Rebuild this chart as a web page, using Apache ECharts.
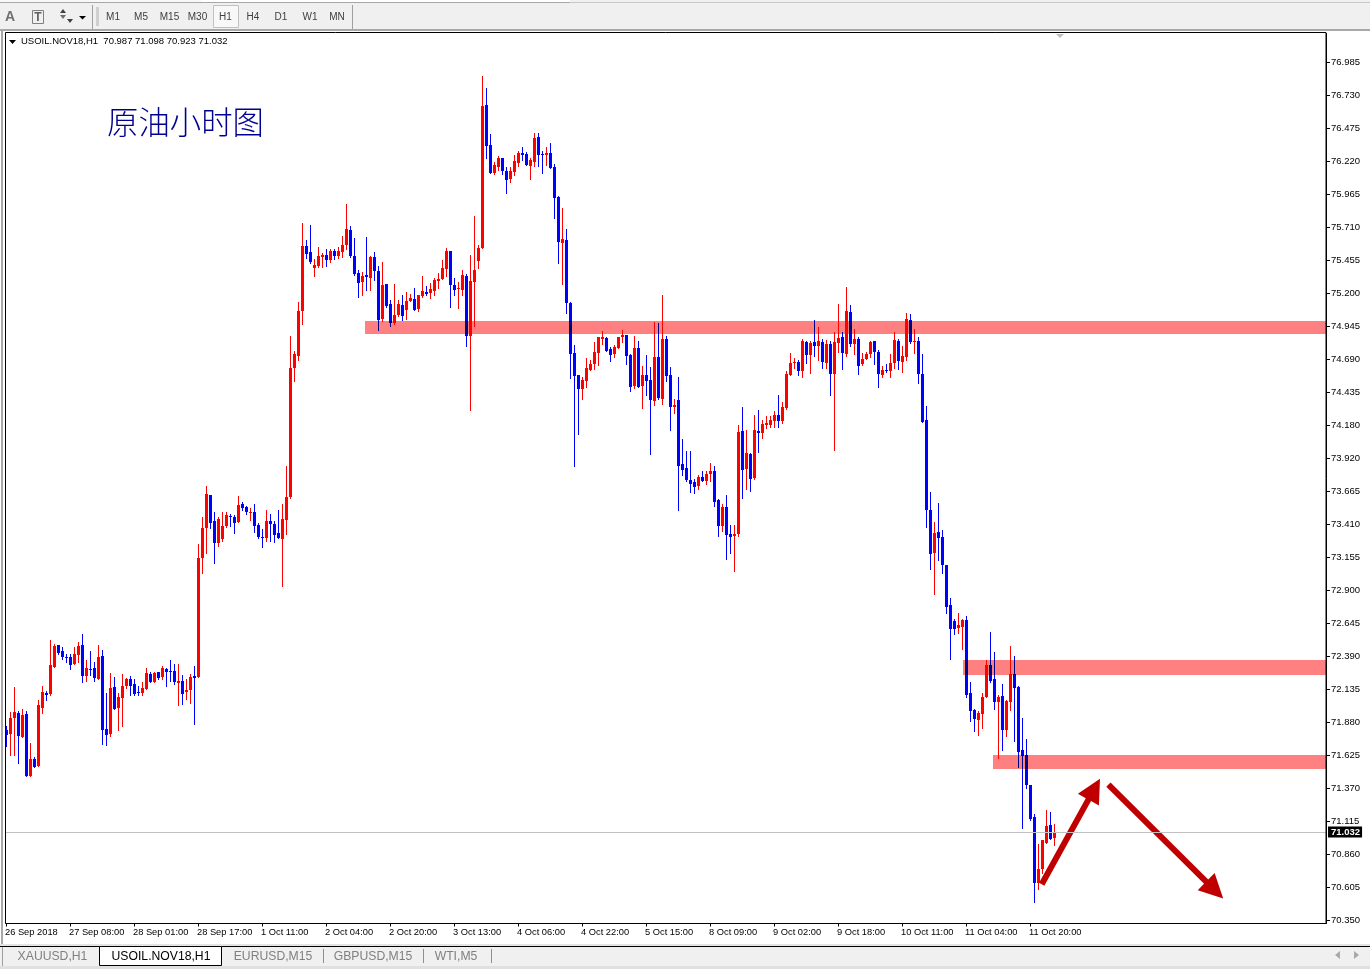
<!DOCTYPE html>
<html>
<head>
<meta charset="utf-8">
<style>html,body{margin:0;padding:0;background:#fff}#c{width:1370px;height:969px}</style>
<script src="https://cdn.jsdelivr.net/npm/echarts@6/dist/echarts.min.js"></script>
</head>
<body>
<div id="c"></div>
<script>
const tickLabels = ['26 Sep 2018','27 Sep 08:00','28 Sep 01:00','28 Sep 17:00','1 Oct 11:00','2 Oct 04:00','2 Oct 20:00','3 Oct 13:00','4 Oct 06:00','4 Oct 22:00','5 Oct 15:00','8 Oct 09:00','9 Oct 02:00','9 Oct 18:00','10 Oct 11:00','11 Oct 04:00','11 Oct 20:00'];
const priceTicks = [76.985,76.730,76.475,76.220,75.965,75.710,75.455,75.200,74.945,74.690,74.435,74.180,73.920,73.665,73.410,73.155,72.900,72.645,72.390,72.135,71.880,71.625,71.370,71.115,70.860,70.605,70.350];
const lastPrice = 71.032;
const opens = [
71.824,71.788,71.912,71.950,71.765,71.943,71.463,71.595,71.540,71.989,
72.105,72.097,72.306,72.476,72.430,72.383,72.383,72.329,72.399,72.476,
72.236,72.291,72.298,72.213,72.391,71.827,71.788,72.151,71.989,72.066,
72.159,72.213,72.175,72.113,72.105,72.136,72.252,72.190,72.267,72.229,
72.291,72.275,72.275,72.182,72.198,72.113,72.128,72.236,72.229,73.149,
73.381,73.636,73.435,73.265,73.296,73.397,73.474,73.466,73.427,73.567,
73.543,73.497,73.505,73.404,73.311,73.304,73.435,73.412,73.342,73.296,
73.443,73.621,74.618,74.711,75.059,75.562,75.515,75.392,75.407,75.477,
75.492,75.454,75.523,75.485,75.515,75.570,75.686,75.485,75.353,75.283,
75.338,75.314,75.477,75.369,74.997,75.268,75.113,74.966,75.028,75.106,
75.067,75.137,75.152,75.075,75.175,75.206,75.198,75.214,75.291,75.307,
75.384,75.523,75.260,75.229,75.222,75.330,74.866,75.283,75.446,75.546,
76.652,76.343,76.126,76.173,76.242,76.142,76.080,76.134,76.204,76.281,
76.273,76.181,76.211,76.405,76.273,76.266,76.281,76.173,75.941,75.585,
75.608,75.121,74.734,74.564,74.456,74.518,74.603,74.649,74.734,74.843,
74.850,74.765,74.727,74.773,74.858,74.874,74.719,74.479,74.773,74.479,
74.564,74.526,74.363,74.703,74.379,74.843,74.564,74.317,74.371,73.876,
73.845,73.752,73.737,73.706,73.775,73.744,73.799,73.822,73.597,73.396,
73.543,73.335,73.319,73.335,74.131,73.837,73.953,73.768,74.131,74.116,
74.178,74.178,74.208,74.255,74.208,74.309,74.564,74.657,74.665,74.595,
74.819,74.719,74.819,74.789,74.819,74.657,74.804,74.572,74.812,74.858,
74.727,75.052,74.804,74.843,74.649,74.688,74.727,74.827,74.742,74.564,
74.603,74.595,74.657,74.827,74.665,74.703,74.990,74.819,74.827,74.572,
74.216,73.520,73.187,73.350,73.311,73.095,72.785,72.661,72.607,72.615,
72.669,72.105,71.973,71.896,71.942,72.074,72.321,72.213,72.035,72.081,
71.818,72.035,72.252,72.151,71.664,71.625,71.393,71.145,70.635,70.743,
70.944,71.084,70.987];
const closes = [
71.780,71.912,71.958,71.772,71.935,71.463,71.595,71.533,72.012,72.113,
72.090,72.322,72.468,72.414,72.383,72.376,72.322,72.407,72.468,72.236,
72.298,72.283,72.221,72.383,71.819,71.780,72.144,71.981,72.074,72.159,
72.213,72.159,72.097,72.105,72.144,72.260,72.190,72.260,72.221,72.298,
72.267,72.267,72.190,72.198,72.097,72.128,72.229,72.221,73.149,73.381,
73.644,73.420,73.265,73.451,73.397,73.482,73.466,73.420,73.559,73.536,
73.505,73.505,73.397,73.311,73.304,73.435,73.412,73.327,73.304,73.451,
73.621,74.618,74.727,75.059,75.562,75.500,75.438,75.415,75.485,75.492,
75.454,75.523,75.485,75.523,75.570,75.693,75.485,75.345,75.276,75.330,
75.322,75.477,75.369,74.990,75.260,75.098,74.966,75.028,75.113,75.021,
75.137,75.160,75.067,75.183,75.214,75.191,75.229,75.299,75.307,75.392,
75.523,75.260,75.222,75.237,75.338,74.866,75.291,75.376,75.546,76.645,
76.335,76.126,76.188,76.242,76.142,76.072,76.142,76.219,76.281,76.266,
76.188,76.227,76.397,76.266,76.266,76.281,76.165,75.933,75.593,75.616,
75.121,74.727,74.557,74.456,74.526,74.618,74.649,74.742,74.858,74.858,
74.750,74.719,74.781,74.858,74.874,74.711,74.471,74.773,74.471,74.564,
74.518,74.371,74.703,74.386,74.843,74.557,74.317,74.332,73.860,73.830,
73.752,73.721,73.698,73.775,73.744,73.799,73.822,73.582,73.396,73.543,
73.327,73.311,73.335,74.123,73.830,73.961,73.760,74.139,74.116,74.185,
74.193,74.216,74.255,74.208,74.317,74.572,74.657,74.665,74.595,74.827,
74.719,74.812,74.789,74.827,74.665,74.804,74.572,74.819,74.850,74.734,
75.059,74.804,74.843,74.634,74.688,74.727,74.819,74.742,74.572,74.603,
74.595,74.657,74.835,74.673,74.711,74.997,74.819,74.827,74.572,74.201,
73.520,73.180,73.342,73.303,73.095,72.770,72.600,72.600,72.631,72.669,
72.089,71.965,71.904,71.950,72.074,72.321,72.197,72.035,72.074,71.818,
72.043,72.252,72.143,71.648,71.617,71.393,71.130,70.635,70.743,70.968,
71.076,70.975,71.032];
const lows = [
71.690,71.620,71.620,71.556,71.760,71.458,71.455,71.525,71.533,71.943,
72.043,72.082,72.300,72.399,72.360,72.337,72.283,72.325,72.337,72.182,
72.190,72.236,72.190,72.210,71.703,71.695,71.765,71.973,71.811,71.842,
72.136,72.082,72.082,72.082,72.082,72.133,72.187,72.187,72.205,72.205,
72.151,72.190,72.167,72.004,72.012,72.051,72.020,71.857,72.221,73.025,
73.180,73.373,73.103,73.234,73.273,73.381,73.389,73.335,73.420,73.513,
73.482,73.435,73.342,73.296,73.226,73.273,73.273,73.265,73.300,72.925,
73.327,73.605,74.510,74.672,74.951,75.461,75.423,75.322,75.392,75.392,
75.399,75.430,75.454,75.461,75.469,75.531,75.469,75.330,75.160,75.175,
75.214,75.214,75.291,74.904,74.974,75.082,74.935,74.951,75.013,74.982,
74.990,75.129,75.063,75.051,75.160,75.175,75.152,75.175,75.229,75.299,
75.322,75.082,75.175,75.075,75.175,74.781,74.286,74.935,75.384,75.539,
76.235,76.119,76.111,76.142,76.111,75.964,76.049,76.103,76.173,76.219,
76.181,76.072,76.173,76.173,76.119,76.181,76.160,75.771,75.423,75.260,
75.036,74.533,73.853,74.100,74.371,74.464,74.595,74.603,74.634,74.796,
74.742,74.665,74.696,74.765,74.812,74.642,74.433,74.456,74.467,74.301,
74.402,73.946,74.325,74.371,74.332,74.510,74.131,74.263,73.512,73.783,
73.737,73.652,73.644,73.675,73.740,73.714,73.737,73.543,73.311,73.350,
73.133,73.180,73.041,73.311,73.605,73.675,73.659,73.752,73.961,74.069,
74.147,74.154,74.154,74.154,74.185,74.294,74.557,74.611,74.557,74.541,
74.649,74.572,74.703,74.673,74.611,74.611,74.402,73.976,74.734,74.603,
74.703,74.781,74.719,74.564,74.634,74.680,74.696,74.642,74.464,74.541,
74.580,74.541,74.611,74.603,74.580,74.673,74.804,74.727,74.495,74.197,
73.381,73.056,72.863,73.126,73.025,72.716,72.360,72.553,72.561,72.437,
72.066,71.880,71.803,71.772,71.826,72.070,72.182,71.973,71.594,71.656,
71.764,71.965,71.726,71.524,71.053,71.362,71.115,70.480,70.581,70.705,
70.936,70.970,70.923];
const highs = [
71.850,71.958,72.151,71.966,71.981,71.966,71.718,71.610,72.051,72.159,
72.120,72.515,72.484,72.480,72.461,72.407,72.407,72.461,72.499,72.561,
72.360,72.430,72.345,72.476,72.438,72.105,72.260,72.229,72.105,72.252,
72.221,72.236,72.213,72.159,72.190,72.298,72.267,72.267,72.270,72.314,
72.298,72.360,72.329,72.329,72.244,72.213,72.252,72.314,73.257,73.466,
73.706,73.640,73.505,73.466,73.505,73.505,73.489,73.482,73.629,73.582,
73.551,73.536,73.567,73.420,73.373,73.520,73.489,73.435,73.520,73.567,
73.861,74.866,74.750,75.129,75.740,75.608,75.724,75.461,75.554,75.508,
75.539,75.539,75.539,75.554,75.639,75.887,75.717,75.624,75.376,75.361,
75.631,75.485,75.515,75.407,75.438,75.272,75.144,75.268,75.144,75.183,
75.206,75.191,75.237,75.187,75.330,75.253,75.276,75.314,75.353,75.454,
75.546,75.527,75.314,75.283,75.376,75.345,75.492,75.794,75.570,76.877,
76.784,76.428,76.211,76.258,76.246,76.173,76.173,76.266,76.297,76.327,
76.289,76.242,76.436,76.436,76.297,76.327,76.358,76.196,75.949,75.856,
75.693,75.129,74.796,74.568,74.549,74.696,74.680,74.819,74.862,74.905,
74.858,74.781,74.796,74.862,74.912,74.878,74.727,74.866,74.827,74.634,
74.719,74.626,74.974,74.966,75.183,74.866,74.626,74.379,74.549,74.069,
73.976,73.976,73.760,73.791,73.822,73.822,73.884,73.860,73.605,73.567,
73.636,73.404,73.404,74.178,74.317,74.139,73.961,74.255,74.294,74.216,
74.247,74.247,74.286,74.410,74.355,74.595,74.734,74.696,74.680,74.843,
74.827,74.827,74.990,74.935,74.843,74.835,74.827,74.897,75.113,74.897,
75.245,75.106,74.920,74.858,74.734,74.742,74.827,74.831,74.758,74.634,
74.649,74.727,74.897,74.843,74.789,75.044,75.036,74.920,74.858,74.727,
74.325,73.659,73.427,73.574,73.365,73.099,72.839,72.677,72.723,72.677,
72.700,72.190,71.981,71.965,72.105,72.360,72.576,72.422,72.089,72.174,
72.050,72.468,72.391,72.159,71.911,71.749,71.397,71.169,70.937,70.972,
71.200,71.184,71.098];
// Resistance zones: first bar position, upper and lower price
const zoneStarts = [89.75,239.25,246.75];
const zoneTops = [74.982,72.360,71.626];
const zoneBottoms = [74.885,72.244,71.517];
// Hand-drawn arrows: tail bar position, tail price, tip bar position, tip price
const arrowPaths = [[258.93,70.628,273.5,71.445],[275.6,71.399,304.3,70.518]];
const slotCount = 331;
const labelStep = 16;
const labelled = i => i % labelStep === 0 && i / labelStep < tickLabels.length;
const categories = Array.from({length: slotCount}, (_, i) => labelled(i) ? tickLabels[i / labelStep] : '');
const candles = opens.map((o, i) => [i, o, closes[i], lows[i], highs[i]]);
const UI = '"Liberation Sans", sans-serif';
const txt = (text, x, y, size, fill, align, extra) => Object.assign({type: 'text', silent: true, z: 10,
  style: {text, x, y, font: (extra && extra.weight ? extra.weight + ' ' : '') + size + 'px ' + ((extra && extra.family) || UI), fill, textAlign: align || 'left', textVerticalAlign: 'middle'}});
const box = (x, y, w, h, fill, stroke, z) => ({type: 'rect', silent: true, z: z || 1, shape: {x, y, width: w, height: h}, style: {fill: fill || 'none', stroke: stroke || 'none', lineWidth: 1}});
const tri = (points, fill) => ({type: 'polygon', silent: true, z: 10, shape: {points}, style: {fill}});
const toolbarItems = [['M1',113],['M5',141],['M15',169.5],['M30',197.5],['H1',225.5],['H4',253],['D1',281],['W1',310],['MN',337]];
const tabs = [['XAUUSD,H1',52.5],['EURUSD,M15',273],['GBPUSD,M15',373],['WTI,M5',456]];
const graphics = [
  box(0,0,1370,30,'#f0f0f0'),
  box(0,0,201,2,'#f8f8f8'), box(201,0,369,2,'#ffffff'),
  box(0,2,570,1,'#a8a8a8'), box(570,2,800,1,'#c8c8c8'),
  box(0,29,1370,2,'#a8a8a8'),
  box(1,31,2,915,'#a8a8a8'),
  box(92,5,1,24,'#a0a0a0'), box(352,5,1,24,'#a0a0a0'),
  box(96,7,3,19,'#d0d0d0'),
  box(213.5,5.5,25,22,'#f8f8f8','#c0c0c0'),
  txt('A',10,17.5,14,'#707070','center',{weight:'bold'}),
  box(32.5,10.5,11,13,'none','#808080'),
  txt('T',38,17.5,12,'#606060','center',{weight:'bold'}),
  tri([[60,13],[66,13],[63,9]],'#404040'), tri([[60,15],[66,15],[63,19]],'#707070'),
  tri([[67,19],[73,19],[70,23]],'#404040'),
  tri([[79,16],[86,16],[82.5,19.5]],'#000000'),
  ...toolbarItems.map(t => txt(t[0],t[1],17.5,10,'#404040','center')),
  box(5.5,32.5,1320.5,891,'none','#000000',12),
  // chart legend line
  tri([[9,40],[16,40],[12.5,44]],'#000000'),
  txt('USOIL.NOV18,H1  70.987 71.098 70.923 71.032',21,41.5,9.5,'#000000'),
  tri([[1056,34],[1064,34],[1060,38]],'#c0c0c0'),
  txt('原油小时图',107,122,31.4,'#000090','left',{family:'"Noto Sans CJK SC", sans-serif',weight:'300'}),
  // tab strip
  box(0,944,1370,2,'#e4e4e4'),
  box(0,946,1370,23,'#f0f0f0'),
  box(0,946,1370,1,'#000000'),
  box(0,966,1370,3,'#e0e0e0'),
  box(99.5,946.5,122,19,'#ffffff','#000000'),
  txt('USOIL.NOV18,H1',161,957,12.2,'#000000','center'),
  ...tabs.map(t => txt(t[0],t[1],957,12.2,'#808080','center')),
  box(2,947,1,19,'#a0a0a0'),
  box(323,949,1,14,'#909090'), box(423,949,1,14,'#909090'), box(491,949,1,14,'#909090'),
  tri([[1340,951],[1340,959],[1335,955]],'#a8a8a8'), tri([[1354,951],[1354,959],[1359,955]],'#a8a8a8')
];
const renderCandle = (params, api) => {
  const i = api.value(0), o = api.value(1), c = api.value(2), l = api.value(3), h = api.value(4);
  const cx = Math.round(api.coord([i, o])[0]);
  const py = p => Math.round(api.coord([i, p])[1]);
  const fill = c >= o ? '#ff0000' : '#0000ff';
  const top = Math.min(py(o), py(c)), bottom = Math.max(py(o), py(c));
  return {type: 'group', children: [
    {type: 'rect', shape: {x: cx, y: py(h), width: 1, height: Math.max(py(l) - py(h), 1)}, style: {fill}},
    {type: 'rect', shape: {x: cx - 1, y: top, width: 3, height: Math.max(bottom - top, 1)}, style: {fill}}
  ]};
};
const renderZone = (params, api) => {
  const a = api.coord([api.value(0), api.value(1)]);
  const b = api.coord([api.value(0), api.value(2)]);
  const right = params.coordSys.x + params.coordSys.width;
  const x = Math.round(a[0]), top = Math.round(a[1] - 0.2), bottom = Math.round(b[1] - 0.2);
  return {type: 'rect', shape: {x, y: top, width: right - x, height: bottom - top}, style: {fill: '#ff8080'}};
};
const renderArrow = (params, api) => {
  const t = api.coord([api.value(0), api.value(1)]);
  const h = api.coord([api.value(2), api.value(3)]);
  const dx = h[0] - t[0], dy = h[1] - t[1], len = Math.hypot(dx, dy), ux = dx / len, uy = dy / len, nx = -uy, ny = ux;
  const headLen = 24, headHalf = 12, shaftHalf = 3;
  const bx = h[0] - ux * headLen, by = h[1] - uy * headLen;
  return {type: 'polygon', shape: {points: [
    [t[0] + nx * shaftHalf, t[1] + ny * shaftHalf], [bx + nx * shaftHalf, by + ny * shaftHalf],
    [bx + nx * headHalf, by + ny * headHalf], h, [bx - nx * headHalf, by - ny * headHalf],
    [bx - nx * shaftHalf, by - ny * shaftHalf], [t[0] - nx * shaftHalf, t[1] - ny * shaftHalf]]},
    style: {fill: '#c00000'}};
};
const chart = echarts.init(document.getElementById('c'), null, {renderer: 'canvas', width: 1370, height: 969});
chart.setOption({
  animation: false,
  backgroundColor: '#ffffff',
  grid: {left: 6, top: 33.5, width: 1320, height: 890, show: false},
  xAxis: [{
    type: 'category', data: categories, boundaryGap: false,
    axisLine: {onZero: false, lineStyle: {color: '#000000', width: 1}},
    axisTick: {interval: labelled, length: 3, lineStyle: {color: '#000000'}},
    axisLabel: {interval: labelled, align: 'left', margin: 4, padding: [0, 0, 0, -1], color: '#000000', fontFamily: 'Liberation Sans', fontSize: 9.3, hideOverlap: false},
    splitLine: {show: false}
  }, {type: 'value', min: 0, max: 330, show: false, splitLine: {show: false}}],
  yAxis: {
    type: 'value', position: 'right', min: 70.3248, max: 77.2078, scale: true,
    axisLine: {show: true, onZero: false, lineStyle: {color: '#000000', width: 1}},
    axisTick: {show: true, length: 4, customValues: priceTicks, lineStyle: {color: '#000000'}},
    axisLabel: {margin: 5, padding: [1, 0, 0, 0], customValues: priceTicks, color: '#000000', fontFamily: 'Liberation Sans', fontSize: 9.5, formatter: v => v.toFixed(3)},
    splitLine: {show: false}
  },
  graphic: {elements: graphics},
  series: [{
    name: 'USOIL.NOV18,H1', type: 'custom', xAxisIndex: 0, yAxisIndex: 0, z: 2, silent: true,
    encode: {x: 0, y: [1, 2, 3, 4]}, renderItem: renderCandle, data: candles,
    markLine: {
      silent: true, symbol: 'none', animation: false, precision: 3,
      lineStyle: {color: '#c0c0c0', width: 1, type: 'solid'},
      label: {position: 'end', formatter: () => lastPrice.toFixed(3), color: '#ffffff', backgroundColor: '#000000', fontFamily: 'Liberation Sans', fontSize: 9.5, fontWeight: 'bold', padding: [1, 2, 0, 3], distance: 2},
      data: [{yAxis: lastPrice}]
    }
  }, {
    type: 'custom', xAxisIndex: 1, yAxisIndex: 0, z: 3, silent: true, clip: false, blendMode: 'multiply', renderItem: renderZone,
    data: zoneStarts.map((s, i) => [s, zoneTops[i], zoneBottoms[i]])
  }, {
    type: 'custom', xAxisIndex: 1, yAxisIndex: 0, z: 4, silent: true, clip: false, renderItem: renderArrow,
    data: arrowPaths
  }]
});
</script>
</body>
</html>
